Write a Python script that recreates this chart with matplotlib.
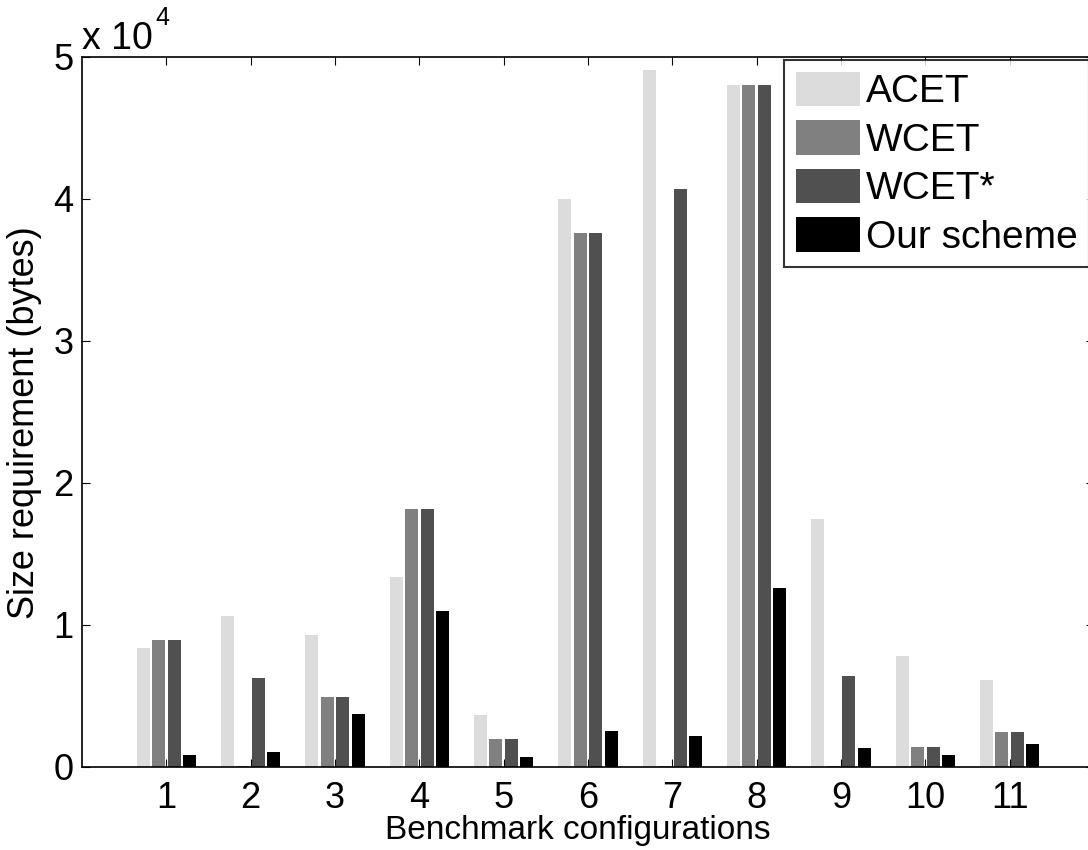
import matplotlib
matplotlib.use("Agg")
import matplotlib.pyplot as plt
import numpy as np

plt.rcParams['font.family'] = ['Liberation Sans', 'DejaVu Sans']

configs = [1, 2, 3, 4, 5, 6, 7, 8, 9, 10, 11]
series = ["ACET", "WCET", "WCET*", "Our scheme"]
acet = [8380, 10600, 9330, 13400, 3630, 40000, 49050, 48000, 17500, 7850, 6160]
wcet = [8940, 60, 4960, 18200, 1940, 37640, 60, 48000, 60, 1440, 2500]
wcet_star = [8940, 6300, 4960, 18200, 1940, 37640, 40670, 48000, 6440, 1440, 2500]
ours = [810, 1090, 3700, 11020, 670, 2570, 2150, 12640, 1370, 880, 1650]
colors = ["#dcdcdc", "#808080", "#505050", "#000000"]

fig = plt.figure(figsize=(10.88, 8.5), dpi=100)
ax = fig.add_axes([82/1088, 83/850, 1012/1088, 710/850])

x = np.array(configs)
data = [acet, wcet, wcet_star, ours]
for i, (vals, c, name) in enumerate(zip(data, colors, series)):
    ax.bar(x + (i - 1.5)*0.184, vals, width=0.155, color=c, label=name, linewidth=0)

ax.set_xlim(0, 12)
ax.set_ylim(0, 50000)
ax.set_xticks(configs)
ax.set_yticks(np.arange(0, 50001, 10000))
ax.set_yticklabels([str(v) for v in range(6)])
ax.tick_params(direction='in', length=6, width=0.8, top=True, right=True,
               labelsize=26)
ax.tick_params(axis='x', pad=10)
ax.tick_params(axis='y', pad=6)
for s in ax.spines.values():
    s.set_linewidth(1.2)

ax.set_xlabel("Benchmark configurations", fontsize=24)
ax.xaxis.set_label_coords(0.49, -0.068)
ax.set_ylabel("Size requirement (bytes)", fontsize=26)
ax.yaxis.set_label_coords(-0.04, 0.485)

fig.text(82/1088, 1 - 49/850, "x 10", fontsize=27, va='baseline', ha='left')
fig.text(155/1088, 1 - 25/850, "4", fontsize=18, va='baseline', ha='left')

leg = ax.legend(loc='upper left', bbox_to_anchor=(784/1088, 1 - 60/850),
                bbox_transform=fig.transFigure, fontsize=28, frameon=True,
                fancybox=False, handlelength=1.65, handleheight=1.0,
                handletextpad=0.15, labelspacing=0.25, borderpad=0.3,
                borderaxespad=0)
leg.get_frame().set_edgecolor('black')
leg.get_frame().set_linewidth(1.5)

plt.savefig("out.png", dpi=100)
